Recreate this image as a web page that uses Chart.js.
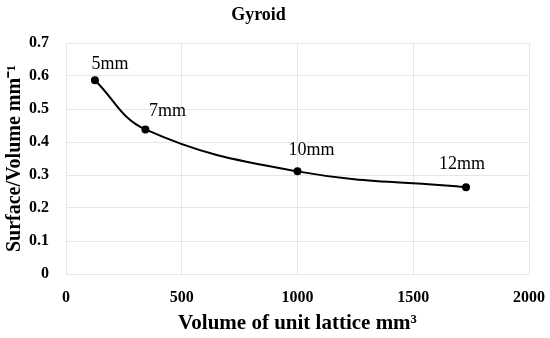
<!DOCTYPE html>
<html><head><meta charset="utf-8">
<script src="https://cdn.jsdelivr.net/npm/chart.js@4"></script>
<style>html,body{margin:0;padding:0;background:#fff}</style>
</head><body>
<canvas id="c" width="550" height="338"></canvas>
<script>
const chartTitle = 'Gyroid';
const pointLabels = ['5mm', '7mm', '10mm', '12mm'];
const volumes = [125, 343, 1000, 1728];
const ratios = [0.587, 0.438, 0.311, 0.263];
const xTickValues = [0, 500, 1000, 1500, 2000];
const yTickValues = [0, 0.1, 0.2, 0.3, 0.4, 0.5, 0.6, 0.7];

const FONT = "'Liberation Serif', 'Times New Roman', serif";

const labelPlugin = {
  id: 'pointText',
  afterDatasetsDraw(chart, args, opts) {
    const ctx = chart.ctx;
    const meta = chart.getDatasetMeta(0);
    ctx.save();
    ctx.fillStyle = '#000';
    ctx.textAlign = 'center';
    ctx.textBaseline = 'middle';
    ctx.font = opts.font;
    meta.data.forEach((pt, i) => {
      const off = opts.offsets[i];
      ctx.fillText(pointLabels[i], pt.x + off[0], pt.y + off[1]);
    });
    ctx.font = opts.titleFont;
    ctx.fillText(chartTitle, opts.titlePos[0], opts.titlePos[1]);
    ctx.restore();
  }
};

new Chart(document.getElementById('c'), {
  type: 'scatter',
  data: {
    datasets: [{
      data: volumes.map((v, i) => ({x: v, y: ratios[i]})),
      showLine: true,
      borderColor: '#000',
      backgroundColor: '#000',
      borderWidth: 2,
      pointRadius: 3,
      pointHoverRadius: 3,
      tension: 0.4
    }]
  },
  options: {
    responsive: false,
    animation: false,
    devicePixelRatio: 1,
    layout: {padding: {left: 0, right: 21, top: 43, bottom: 0}},
    plugins: {
      legend: {display: false},
      tooltip: {enabled: false},
      title: {display: false},
      pointText: {
        font: "18px " + FONT,
        titleFont: "bold 18px " + FONT,
        titlePos: [258.5, 15],
        offsets: [[15, -16], [22, -18], [14, -21], [-4, -23]]
      }
    },
    scales: {
      x: {
        type: 'linear',
        min: 0, max: 2000,
        afterBuildTicks: s => { s.ticks = xTickValues.map(v => ({value: v})); },
        afterFit: s => { s.height = 64; s.paddingLeft = 0; s.paddingRight = 0; },
        grid: {color: '#e6e6e6', drawTicks: false},
        border: {color: '#e6e6e6'},
        ticks: {
          color: '#000', padding: 14, maxRotation: 0,
          font: {family: FONT, size: 16, weight: 'bold'},
          callback: v => String(v)
        },
        title: {
          display: true,
          text: 'Volume of unit lattice mm³',
          color: '#000',
          font: {family: FONT, size: 21, weight: 'bold', lineHeight: 1.2},
          padding: {top: 0, bottom: 2}
        }
      },
      y: {
        type: 'linear',
        min: 0, max: 0.7,
        afterBuildTicks: s => { s.ticks = yTickValues.map(v => ({value: v})); },
        afterFit: s => { s.width = 66; s.paddingTop = 0; s.paddingBottom = 0; },
        grid: {color: '#e6e6e6', drawTicks: false},
        border: {color: '#e6e6e6'},
        ticks: {
          color: '#000', padding: 17,
          font: {family: FONT, size: 16, weight: 'bold'},
          callback: v => v === 0 ? '0' : v.toFixed(1)
        },
        title: {
          display: true,
          text: 'Surface/Volume mm⁻¹',
          color: '#000',
          font: {family: FONT, size: 20, weight: 'bold', lineHeight: 1.2},
          padding: {top: 3, bottom: 0}
        }
      }
    }
  },
  plugins: [labelPlugin]
});
</script>
</body></html>
